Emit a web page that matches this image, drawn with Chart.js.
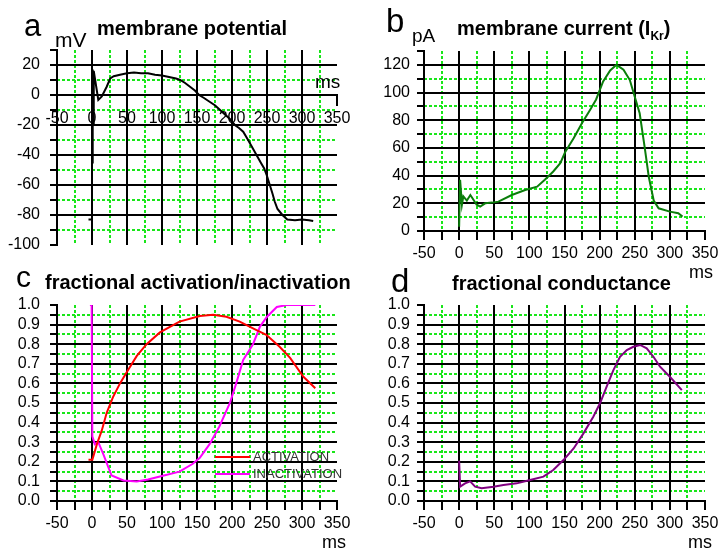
<!DOCTYPE html>
<html>
<head>
<meta charset="utf-8">
<script src="https://cdn.jsdelivr.net/npm/chart.js@4.4.1/dist/chart.umd.min.js"></script>
<style>
  body { margin: 0; background: #fff; }
  #fig { position: relative; width: 721px; height: 552px; overflow: hidden;
         font-family: 'Liberation Sans', Arial, sans-serif; color: #000; }
  #fig canvas { position: absolute; }
  .t { position: absolute; white-space: nowrap; line-height: 1; }
  .b { font-weight: bold; }
</style>
</head>
<body>
<div id="fig">
  <canvas id="ca" width="360" height="270" style="left:0;top:0"></canvas>
  <canvas id="cb" width="361" height="270" style="left:360px;top:0"></canvas>
  <canvas id="cc" width="360" height="282" style="left:0;top:270px"></canvas>
  <canvas id="cd" width="361" height="282" style="left:360px;top:270px"></canvas>

  <div class="t" style="left:24px;top:10px;font-size:31px">a</div>
  <div class="t" style="left:55px;top:29px;font-size:21px">mV</div>
  <div class="t b" style="left:97px;top:18px;font-size:20px">membrane potential</div>
  <div class="t" style="left:315px;top:72px;font-size:19px">ms</div>

  <div class="t" style="left:386px;top:4px;font-size:33px">b</div>
  <div class="t" style="left:412px;top:26px;font-size:19px">pA</div>
  <div class="t b" style="left:457px;top:18px;font-size:20px">membrane current (I<span style="font-size:12px;position:relative;top:5px">Kr</span>)</div>
  <div class="t" style="left:689px;top:263px;font-size:18px">ms</div>

  <div class="t" style="left:16px;top:262px;font-size:30px">c</div>
  <div class="t b" style="left:45px;top:272px;font-size:20px">fractional activation/inactivation</div>
  <div class="t" style="left:322px;top:533px;font-size:18px">ms</div>

  <div class="t" style="left:391px;top:264px;font-size:33px">d</div>
  <div class="t b" style="left:452px;top:273px;font-size:20px">fractional conductance</div>
  <div class="t" style="left:688px;top:533px;font-size:18px">ms</div>
</div>

<script>
// a: membrane potential (mV)
const potentialT = [-5, -1, -0.5, 0, 1, 1.5, 2.5, 9, 14, 21, 26, 31, 40, 50, 60, 70, 80, 90, 100, 110, 120, 126, 133, 140, 147, 153, 160, 168, 176, 183, 190, 197, 204, 210, 216, 223, 229, 235, 241, 246, 250, 254, 258, 261, 265, 272, 279, 290, 300, 310, 316];
const potentialV = [-83, -83, null, -45, 17, -20, 16, -3.3, -1, 5.5, 11, 12.5, 13.5, 14.5, 15, 14.5, 14.5, 13.5, 13, 12, 11, 10, 8, 5.5, 3, 0, -2, -4.5, -7, -10, -13, -16, -20, -22, -24.5, -30, -35, -40, -45, -49, -54, -60, -66, -71, -76, -80, -83, -83.5, -83, -83.5, -84];

// b: membrane current IKr (pA)
const currentT = [0, 1.4, 4, 6, 11, 16, 25, 30, 37, 47, 56, 75, 94, 111, 122, 134, 144, 151, 163, 175, 187, 195, 205, 215, 224, 234, 243, 250, 257, 264, 270, 277, 284, 300, 312, 318];
const currentI = [3, 37, 19, 25, 22, 26, 19, 17.6, 20, 20.5, 21.2, 26, 29.6, 32, 37, 43, 49, 57, 67, 78, 88, 95, 108, 116, 120, 116.5, 109, 97, 85, 61, 39, 22, 16.4, 14, 12.8, 10.4];

// c: fractional activation / inactivation
const activationT = [-5, 0.5, 7, 14, 21, 30, 40, 50, 64, 78, 97, 125, 154, 173, 192, 211, 235, 249, 268, 283, 302, 319];
const activationV = [0.21, 0.21, 0.29, 0.36, 0.45, 0.53, 0.60, 0.66, 0.74, 0.80, 0.86, 0.915, 0.944, 0.95, 0.94, 0.915, 0.872, 0.848, 0.787, 0.73, 0.634, 0.575];
const inactivationT = [-3, -0.5, 0.5, 4, 9, 16, 23, 28, 45, 64, 80, 97, 125, 144, 154, 168, 182, 197, 206, 216, 230, 240, 250, 264, 278, 319];
const inactivationV = [1.0, 1.0, 0.33, 0.29, 0.30, 0.24, 0.175, 0.13, 0.105, 0.10, 0.11, 0.125, 0.15, 0.19, 0.22, 0.29, 0.38, 0.50, 0.60, 0.72, 0.80, 0.89, 0.94, 0.99, 1.0, 1.0];

// d: fractional conductance
const conductanceT = [0, 1.4, 8.5, 15.7, 22.8, 32, 49, 63, 82, 101, 120, 134, 148.5, 163, 177, 191, 200.7, 210, 219.6, 229, 238.7, 248, 257.7, 267, 276.6, 286, 300, 317];
const conductanceV = [0.206, 0.073, 0.09, 0.10, 0.073, 0.065, 0.073, 0.082, 0.09, 0.107, 0.124, 0.158, 0.209, 0.268, 0.345, 0.43, 0.50, 0.583, 0.668, 0.736, 0.77, 0.787, 0.796, 0.779, 0.736, 0.685, 0.634, 0.566];

Chart.defaults.font.family = "'Liberation Sans', Arial, sans-serif";
Chart.defaults.font.size = 16;
Chart.defaults.color = '#000';

const LIME = '#19e619';
const CLEAR = 'rgba(0,0,0,0)';

const pts = (t, v) => t.map((x, i) => ({ x: x, y: v[i] }));

// even multiples of the minor step are the labelled (black) lines
const isMajor = (v, step) => Math.round(v / step) % 2 === 0;
const inside = (s, v) => v > s.min + 1e-9 && v < s.max - 1e-9;

// green dotted lines at the minor ticks, under the black grid
const minorGrid = {
  id: 'minorGrid',
  beforeDraw(chart) {
    const { ctx, chartArea: a, scales } = chart;
    ctx.save();
    ctx.strokeStyle = LIME;
    ctx.lineWidth = 2;
    ctx.setLineDash([3, 2]);
    ['x', 'y'].forEach(id => {
      const s = scales[id];
      const step = s.options.ticks.stepSize;
      s.ticks.forEach(t => {
        if (isMajor(t.value, step) || !inside(s, t.value)) return;
        const p = Math.round(s.getPixelForValue(t.value));
        ctx.beginPath();
        if (id === 'x') { ctx.moveTo(p, a.top); ctx.lineTo(p, a.bottom); }
        else { ctx.moveTo(a.left, p); ctx.lineTo(a.right, p); }
        ctx.stroke();
      });
    });
    ctx.restore();
  }
};

// small legend sitting inside the plot of panel c
const innerLegend = {
  id: 'innerLegend',
  afterDatasetsDraw(chart, args, o) {
    if (!o.show) return;
    const { ctx, chartArea: a } = chart;
    ctx.save();
    ctx.font = "13px 'Liberation Sans', Arial, sans-serif";
    ctx.textBaseline = 'middle';
    chart.data.datasets.forEach((ds, i) => {
      const y = a.top + o.top + i * o.gap;
      ctx.strokeStyle = ds.borderColor;
      ctx.lineWidth = 2;
      ctx.beginPath();
      ctx.moveTo(a.left + o.left, y);
      ctx.lineTo(a.left + o.left + 35, y);
      ctx.stroke();
      ctx.fillStyle = '#333';
      ctx.fillText(ds.label, a.left + o.left + 38, y);
    });
    ctx.restore();
  }
};

function panel(id, o) {
  return new Chart(document.getElementById(id), {
    type: 'line',
    data: { datasets: o.datasets },
    plugins: [minorGrid, innerLegend],
    options: {
      responsive: false,
      animation: false,
      layout: { padding: o.pad },
      elements: { point: { radius: 0 }, line: { borderWidth: 2, tension: 0 } },
      plugins: {
        legend: { display: false },
        tooltip: { enabled: false },
        innerLegend: o.legend || { show: false }
      },
      scales: {
        x: {
          type: 'linear', min: -50, max: 350, position: o.xPos,
          afterFit: s => { s.height = 30; s.paddingLeft = 0; s.paddingRight = 0; },
          ticks: {
            stepSize: 25, autoSkip: false, maxRotation: 0, minRotation: 0, padding: o.xPad,
            callback: v => isMajor(v, 25) ? String(v) : ''
          },
          grid: {
            lineWidth: 2, tickLength: o.xTick, tickWidth: 2,
            color: c => (c.tick && isMajor(c.tick.value, 25) && c.tick.value > -50 && c.tick.value < 350) ? '#000' : CLEAR,
            tickColor: c => (!o.xMinorTicks && c.tick && !isMajor(c.tick.value, 25)) ? CLEAR : '#000'
          },
          border: { color: '#000', width: 2 }
        },
        y: {
          type: 'linear', min: o.yMin, max: o.yMax,
          afterFit: s => { s.width = o.yW; s.paddingTop = 0; s.paddingBottom = 0; },
          ticks: {
            stepSize: o.yStep, autoSkip: false, padding: o.yPad,
            callback: v => isMajor(v, o.yStep) ? o.yFmt(v) : ''
          },
          grid: {
            lineWidth: 2, tickLength: 7, tickWidth: 2, tickColor: '#000',
            color: c => (c.tick && isMajor(c.tick.value, o.yStep) && c.tick.value > o.yMin + 1e-9 && c.tick.value < o.yMax - 1e-9) ? '#000' : CLEAR
          },
          border: { color: '#000', width: 2 }
        }
      }
    }
  });
}

panel('ca', {
  datasets: [{ label: 'membrane potential', data: pts(potentialT, potentialV), borderColor: '#000' }],
  pad: { left: 7, right: 23, top: 50, bottom: 25 },
  xPos: { y: 0 }, xPad: 4, xTick: 10, xMinorTicks: false,
  yMin: -100, yMax: 30, yStep: 10, yW: 50, yPad: 10, yFmt: v => String(v)
});

panel('cb', {
  datasets: [{ label: 'membrane current', data: pts(currentT, currentI), borderColor: '#0b7d0b' }],
  pad: { left: 4, right: 16, top: 51, bottom: 9 },
  xPos: 'bottom', xPad: 4, xTick: 9, xMinorTicks: true,
  yMin: 0, yMax: 130, yStep: 10, yW: 60, yPad: 7, yFmt: v => String(v)
});

panel('cc', {
  datasets: [
    { label: 'ACTIVATION', data: pts(activationT, activationV), borderColor: '#ff0000' },
    { label: 'INACTIVATION', data: pts(inactivationT, inactivationV), borderColor: '#ff00ff' }
  ],
  legend: { show: true, left: 158, top: 152, gap: 17 },
  pad: { left: 7, right: 23, top: 35, bottom: 21 },
  xPos: 'bottom', xPad: 4, xTick: 9, xMinorTicks: true,
  yMin: 0, yMax: 1, yStep: 0.05, yW: 50, yPad: 10, yFmt: v => v.toFixed(1)
});

panel('cd', {
  datasets: [{ label: 'fractional conductance', data: pts(conductanceT, conductanceV), borderColor: '#800080' }],
  pad: { left: 4, right: 16, top: 35, bottom: 21 },
  xPos: 'bottom', xPad: 4, xTick: 9, xMinorTicks: true,
  yMin: 0, yMax: 1, yStep: 0.05, yW: 60, yPad: 7, yFmt: v => v.toFixed(1)
});
</script>
</body>
</html>
